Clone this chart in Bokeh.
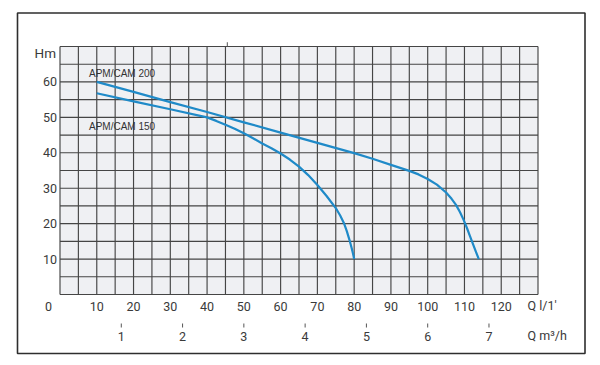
from bokeh.plotting import figure
from bokeh.models import Range1d
from bokeh.core.properties import value
from bokeh.embed import file_html
from bokeh.resources import INLINE

# ---------------- data ----------------
# flow Q (l/min) and head H (m)
q_200 = [10, 20, 30, 40, 50, 60, 70, 80, 85, 90, 95, 97.5, 100, 102.5, 105, 106.5,
         107.7, 108.8, 109.8, 110.7, 111.5, 112.3, 113.1, 113.9]
h_200 = [60.0, 57.2, 54.3, 51.5, 48.6, 45.7, 42.8, 39.9, 38.3, 36.6, 34.9, 33.9,
         32.6, 31.0, 28.8, 27.0, 25.3, 23.2, 21.0, 18.7, 16.5, 14.3, 12.1, 10.0]
q_150 = [10, 20, 30, 40, 42.5, 45, 47.5, 50, 52.5, 55, 57.5, 60, 62.5, 65, 67.5,
         70, 72.5, 75, 76.2, 77.2, 78.0, 78.7, 79.3, 79.7, 80]
h_150 = [56.8, 54.5, 52.3, 50.0, 49.0, 47.9, 46.8, 45.5, 44.1, 42.6, 41.3, 39.8,
         38.1, 36.1, 33.7, 30.9, 27.8, 24.4, 22.3, 20.2, 17.9, 15.5, 13.2, 11.5, 10.0]
series_names = ["APM/CAM 200", "APM/CAM 150"]

y_ticks = [10, 20, 30, 40, 50, 60]
x_ticks = [10, 20, 30, 40, 50, 60, 70, 80, 90, 100, 110, 120]
m3h_ticks = [1, 2, 3, 4, 5, 6, 7]
x_max, y_max, grid_step = 130, 70, 5
y_title = "Hm"
x_title = "Q l/1'"
x2_title = "Q m\u00b3/h"

# ---------------- layout (pixels inside the figure) ----------------
W, H = 592, 357
GL, GR, GT, GB = 59.5, 537.5, 46.0, 294.0   # grid box
sx = (GR - GL) / x_max
sy = (GB - GT) / y_max


def dx(px):
    return (px - GL) / sx


def dy(py):
    return (GB - py) / sy


p = figure(width=W, height=H, output_backend="svg", toolbar_location=None,
           x_range=Range1d(dx(0), dx(W)), y_range=Range1d(dy(H), dy(0)),
           x_axis_type=None, y_axis_type=None, min_border=0,
           background_fill_color="white", border_fill_color="white")
p.outline_line_color = None
p.xgrid.visible = False
p.ygrid.visible = False

# outer frame
p.quad(left=dx(17), right=dx(584.5), top=dy(12.5), bottom=dy(353),
       fill_color=None, line_color="#2e2e2e", line_width=1.6)

# grid background
p.quad(left=0, right=x_max, top=y_max, bottom=0,
       fill_color="#eff0f3", line_color=None)

gx = list(range(0, x_max + 1, grid_step))
gy = list(range(0, y_max + 1, grid_step))
p.segment(x0=gx, x1=gx, y0=[0] * len(gx), y1=[y_max] * len(gx),
          line_color="#454545", line_width=1.15)
p.segment(x0=[0] * len(gy), x1=[x_max] * len(gy), y0=gy, y1=gy,
          line_color="#454545", line_width=1.15)
# small mark above top edge
p.segment(x0=[45.5], x1=[45.5], y0=[y_max], y1=[y_max + 1.2],
          line_color="#555555", line_width=1)

# curves
blue = "#1f8ac8"
p.line(q_200, h_200, line_color=blue, line_width=2.2, line_join="round")
p.line(q_150, h_150, line_color=blue, line_width=2.2, line_join="round")

# curve labels
p.text(x=[dx(88.5), dx(88.5)], y=[dy(72.7), dy(126.3)], text=series_names,
       text_font=value("Liberation Sans"), text_font_size=value("10px"),
       text_color="#333333", text_align="left", text_baseline="middle")

num_font = value("Roboto")
num_size = value("12.5px")
tcol = "#3a3a3a"

# y labels
p.text(x=[dx(56.5)] * len(y_ticks), y=y_ticks, text=[str(v) for v in y_ticks],
       text_font=num_font, text_font_size=num_size, text_color=tcol,
       text_align="right", text_baseline="middle")
p.text(x=[dx(55.5)], y=[dy(52.5)], text=[y_title],
       text_font=num_font, text_font_size=value("13.5px"), text_color=tcol,
       text_align="right", text_baseline="middle")

# x labels (l/min)
p.text(x=x_ticks, y=[dy(306)] * len(x_ticks), text=[str(v) for v in x_ticks],
       text_font=num_font, text_font_size=num_size, text_color=tcol,
       text_align="center", text_baseline="middle")
p.text(x=[dx(48)], y=[dy(306)], text=["0"],
       text_font=num_font, text_font_size=num_size, text_color=tcol,
       text_align="center", text_baseline="middle")
p.text(x=[dx(527)], y=[dy(305)], text=[x_title],
       text_font=num_font, text_font_size=num_size, text_color=tcol,
       text_align="left", text_baseline="middle")

# second scale (m3/h)
q_m3h = [v * 1000 / 60 for v in m3h_ticks]
p.segment(x0=q_m3h, x1=q_m3h, y0=[dy(323)] * len(q_m3h), y1=[dy(327)] * len(q_m3h),
          line_color="#555555", line_width=1)
p.text(x=q_m3h, y=[dy(335.5)] * len(q_m3h), text=[str(v) for v in m3h_ticks],
       text_font=num_font, text_font_size=num_size, text_color=tcol,
       text_align="center", text_baseline="middle")
p.text(x=[dx(527)], y=[dy(335)], text=[x2_title],
       text_font=num_font, text_font_size=num_size, text_color=tcol,
       text_align="left", text_baseline="middle")

open("out.html", "w").write(file_html(p, INLINE))
